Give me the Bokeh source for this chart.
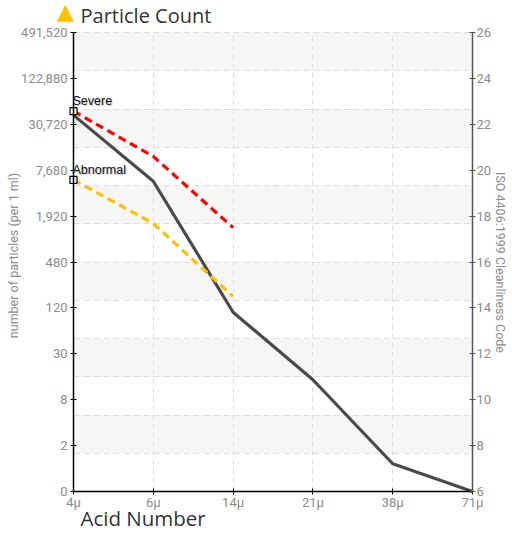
import math
from bokeh.plotting import figure
from bokeh.models import Range1d, LinearAxis, FixedTicker, Label
from bokeh.embed import file_html
from bokeh.resources import INLINE

# ---- data ----
categories = ["4μ", "6μ", "14μ", "21μ", "38μ", "71μ"]
iso_codes = [6, 8, 10, 12, 14, 16, 18, 20, 22, 24, 26]
particle_labels = ["0", "2", "8", "30", "120", "480", "1,920", "7,680",
                   "30,720", "122,880", "491,520"]
particle_count = [22.4, 19.52, 13.81, 10.87, 7.21, 6.0]
severe = [22.57, 20.6, 17.5]
abnormal = [19.58, 17.68, 14.5]

FONT = "Roboto"
TICK_COLOR = "#8c8c8c"

# ---- layout (pixels) ----
W, H = 510, 534
PL, PR, PT, PB = 73, 472, 32, 491          # plot area edges on the canvas
X0, X1 = 0, len(categories) - 1
Y0, Y1 = iso_codes[0], iso_codes[-1]
PX = (PR - PL) / (X1 - X0)
PY = (PB - PT) / (Y1 - Y0)

def dx(px):
    return X0 + (px - PL) / PX

def dy(py):
    return Y1 - (py - PT) / PY

p = figure(width=W, height=H, x_range=Range1d(dx(0), dx(W)), y_range=Range1d(dy(H), dy(0)),
           output_backend="svg", toolbar_location=None,
           min_border=0, min_border_left=0, min_border_right=0,
           min_border_top=0, min_border_bottom=0)
p.outline_line_color = None
p.background_fill_color = "white"
p.border_fill_color = "white"

# grid: 12 horizontal divisions, alternate bands shaded (top band shaded)
grid_y = [Y0 + i * (Y1 - Y0) / 12 for i in range(13)]
band_bottoms = [grid_y[i] for i in range(1, 12, 2)]
band_tops = [grid_y[i + 1] for i in range(1, 12, 2)]
p.quad(left=X0, right=X1, bottom=band_bottoms, top=band_tops,
       fill_color="#f6f6f6", line_color=None, level="image")

p.ygrid.ticker = FixedTicker(ticks=grid_y)
p.ygrid.bounds = (Y0, Y1)
p.ygrid.cross_bounds = (X0, X1)
p.ygrid.grid_line_color = "#dedede"
p.ygrid.grid_line_dash = "6 4"
p.ygrid.band_fill_color = None
p.xgrid.ticker = FixedTicker(ticks=list(range(len(categories))))
p.xgrid.bounds = (X0, X1)
p.xgrid.cross_bounds = (Y0, Y1)
p.xgrid.grid_line_color = "#dedede"
p.xgrid.grid_line_dash = "5 4"

def style_axis(ax, color):
    ax.axis_line_color = color
    ax.axis_line_width = 1.5
    ax.major_tick_line_color = color
    ax.major_tick_in = 3
    ax.major_tick_out = 3
    ax.minor_tick_line_color = None
    ax.major_label_text_color = TICK_COLOR
    ax.major_label_text_font = FONT
    ax.major_label_text_font_size = "13px"

ly = p.yaxis[0]
ly.ticker = FixedTicker(ticks=iso_codes)
ly.major_label_overrides = {c: l for c, l in zip(iso_codes, particle_labels)}
ly.fixed_location = X0
ly.bounds = (Y0, Y1)
style_axis(ly, "black")
ly.major_label_standoff = 3

bx = p.xaxis[0]
bx.ticker = FixedTicker(ticks=list(range(len(categories))))
bx.major_label_overrides = {i: c for i, c in enumerate(categories)}
bx.fixed_location = Y0
bx.bounds = (X0, X1)
style_axis(bx, "black")
bx.major_label_standoff = 0

ry = LinearAxis(ticker=FixedTicker(ticks=iso_codes), fixed_location=X1, bounds=(Y0, Y1))
style_axis(ry, "#555555")
ry.major_label_standoff = 1
p.add_layout(ry, "right")

xs = list(range(len(categories)))
p.line(xs, particle_count, line_color="#4a4a4a", line_width=3.2)
p.line(xs[:len(severe)], severe, line_color="#ff0000", line_width=3.2, line_dash="8 5")
p.line(xs[:len(abnormal)], abnormal, line_color="#ffc000", line_width=3.2, line_dash="8 5")

# threshold markers and their labels
p.scatter([X0, X0], [severe[0], abnormal[0]], marker="square", size=7,
          fill_color="white", line_color="black", line_width=1.2)

for txt, yv in (("Severe", severe[0]), ("Abnormal", abnormal[0])):
    ty = yv + 3 / PY
    p.add_layout(Label(x=X0, y=ty, text=txt, text_color="#c8c8c8", x_offset=0, y_offset=-1,
                       text_font="Liberation Sans", text_font_size="12.5px"))
    p.add_layout(Label(x=X0, y=ty, text=txt, text_color="#111111", x_offset=-1,
                       text_font="Liberation Sans", text_font_size="12.5px"))

# axis titles
p.add_layout(Label(x=dx(13), y=dy(255), text="number of particles (per 1 ml)",
                   angle=math.pi / 2, text_align="center", text_baseline="middle",
                   text_color=TICK_COLOR, text_font=FONT, text_font_size="12.5px"))
p.add_layout(Label(x=dx(500), y=dy(262), text="ISO 4406:1999 Cleanliness Code",
                   angle=-math.pi / 2, text_align="center", text_baseline="middle",
                   text_color=TICK_COLOR, text_font=FONT, text_font_size="12.5px"))

# header / footer
p.add_layout(Label(x=dx(65), y=dy(23), text="▲", text_align="center",
                   text_color="#ffc000", text_font="DejaVu Sans", text_font_size="22px"))
p.add_layout(Label(x=dx(80), y=dy(1), text="Particle Count", text_baseline="top",
                   text_color="#333333", text_font="Open Sans", text_font_size="20px"))
p.add_layout(Label(x=dx(80), y=dy(531), text="Acid Number",
                   text_color="#333333", text_font="Open Sans", text_font_size="20.5px"))

open("out.html", "w").write(file_html(p, INLINE))
